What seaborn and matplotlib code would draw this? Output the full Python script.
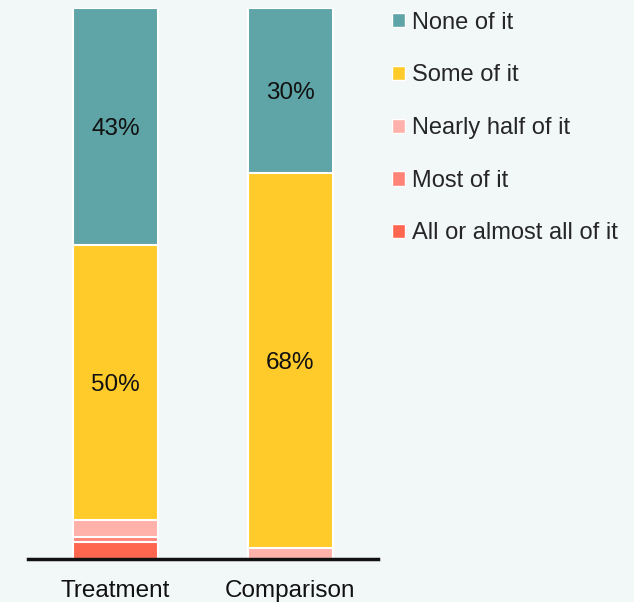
import matplotlib
matplotlib.use("Agg")
import matplotlib.pyplot as plt
from matplotlib.patches import Patch
import seaborn as sns
import numpy as np
import pandas as pd

groups = ["Treatment", "Comparison"]
segments = ["All or almost all of it", "Most of it", "Nearly half of it", "Some of it", "None of it"]
all_or_almost = [3, 0]
most = [1, 0]
nearly_half = [3, 2]
some = [50, 68]
none = [43, 30]
colors = ["#ff6650", "#ff8477", "#ffb1aa", "#ffcb2b", "#5fa5a7"]
bg = "#f2f7f7"

sns.set_theme(style="white")
plt.rcParams["font.family"] = ["Liberation Sans", "DejaVu Sans"]

values = np.array([all_or_almost, most, nearly_half, some, none], dtype=float)
cum = np.cumsum(values, axis=0)

fig = plt.figure(figsize=(6.34, 6.02), dpi=100, facecolor=bg)
ax = fig.add_axes([0.044, 0.0714, 0.552, 0.9156])
ax.set_facecolor(bg)

for i in range(len(segments) - 1, -1, -1):
    df = pd.DataFrame({"group": groups, "val": cum[i]})
    sns.barplot(data=df, x="group", y="val", order=groups, color=colors[i],
                saturation=1, width=0.49, edgecolor="white", linewidth=1.5, ax=ax)

# labels for the large segments
for j, g in enumerate(groups):
    for i in (3, 4):
        v = values[i, j]
        mid = cum[i, j] - v / 2
        ax.text(j, mid, f"{int(v)}%", ha="center", va="center_baseline", fontsize=17.5, color="#111111")

ax.set_xlim(-0.5, 1.5)
ax.set_ylim(0, 100)
ax.set_xlabel("")
ax.set_ylabel("")
ax.set_yticks([])
ax.tick_params(axis="x", labelsize=17.5, length=0, pad=15, colors="#111111")
for s in ["top", "right", "left"]:
    ax.spines[s].set_visible(False)
ax.spines["bottom"].set_color("#111111")
ax.spines["bottom"].set_linewidth(2.5)

handles = [Patch(facecolor=colors[i], edgecolor="white", linewidth=1) for i in range(4, -1, -1)]
labels = [segments[i] for i in range(4, -1, -1)]
fig.legend(handles, labels, loc="upper left", bbox_to_anchor=(0.592, 1.008), frameon=False,
           fontsize=17, handlelength=0.55, handleheight=0.55, handletextpad=0.3,
           labelspacing=1.3, borderaxespad=0.3)

fig.savefig("out.png", dpi=100, facecolor=bg)
